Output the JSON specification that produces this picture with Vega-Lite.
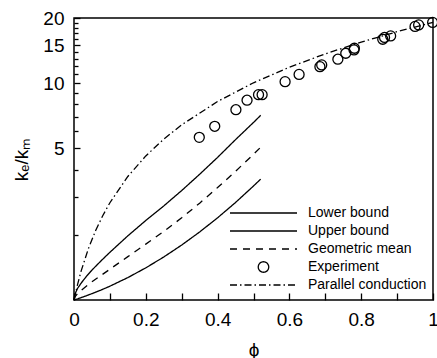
{
  "$schema": "https://vega.github.io/schema/vega-lite/v6.json",
  "width": 359,
  "height": 282,
  "autosize": {"type": "none"},
  "padding": {"left": 74, "top": 18, "right": 4, "bottom": 58},
  "background": "white",
  "config": {
    "font": "Liberation Sans",
    "view": {"stroke": "black", "strokeWidth": 1.5},
    "axis": {"grid": false, "domain": false, "tickColor": "black", "tickWidth": 1.3, "labelColor": "black", "titleColor": "black", "labelFont": "Liberation Sans", "titleFont": "Liberation Sans", "labelFontSize": 19, "titleFontSize": 19, "titleFontWeight": "normal"}
  },
  "data": {"values": [
    {"series": "Lower bound", "phi": 0, "k": 1.0},
    {"series": "Lower bound", "phi": 0.01, "k": 1.012},
    {"series": "Lower bound", "phi": 0.02, "k": 1.026},
    {"series": "Lower bound", "phi": 0.035, "k": 1.047},
    {"series": "Lower bound", "phi": 0.05, "k": 1.070},
    {"series": "Lower bound", "phi": 0.075, "k": 1.111},
    {"series": "Lower bound", "phi": 0.1, "k": 1.158},
    {"series": "Lower bound", "phi": 0.15, "k": 1.269},
    {"series": "Lower bound", "phi": 0.2, "k": 1.407},
    {"series": "Lower bound", "phi": 0.25, "k": 1.579},
    {"series": "Lower bound", "phi": 0.3, "k": 1.793},
    {"series": "Lower bound", "phi": 0.35, "k": 2.060},
    {"series": "Lower bound", "phi": 0.4, "k": 2.395},
    {"series": "Lower bound", "phi": 0.45, "k": 2.818},
    {"series": "Lower bound", "phi": 0.5, "k": 3.357},
    {"series": "Lower bound", "phi": 0.52, "k": 3.611},
    {"series": "Upper bound", "phi": 0, "k": 1.0},
    {"series": "Upper bound", "phi": 0.002, "k": 1.052},
    {"series": "Upper bound", "phi": 0.005, "k": 1.086},
    {"series": "Upper bound", "phi": 0.01, "k": 1.132},
    {"series": "Upper bound", "phi": 0.02, "k": 1.197},
    {"series": "Upper bound", "phi": 0.035, "k": 1.288},
    {"series": "Upper bound", "phi": 0.05, "k": 1.374},
    {"series": "Upper bound", "phi": 0.075, "k": 1.514},
    {"series": "Upper bound", "phi": 0.1, "k": 1.660},
    {"series": "Upper bound", "phi": 0.15, "k": 1.977},
    {"series": "Upper bound", "phi": 0.2, "k": 2.328},
    {"series": "Upper bound", "phi": 0.25, "k": 2.716},
    {"series": "Upper bound", "phi": 0.3, "k": 3.199},
    {"series": "Upper bound", "phi": 0.35, "k": 3.802},
    {"series": "Upper bound", "phi": 0.4, "k": 4.550},
    {"series": "Upper bound", "phi": 0.45, "k": 5.495},
    {"series": "Upper bound", "phi": 0.5, "k": 6.592},
    {"series": "Upper bound", "phi": 0.52, "k": 7.112},
    {"series": "Geometric mean", "phi": 0, "k": 1.0},
    {"series": "Geometric mean", "phi": 0.002, "k": 1.027},
    {"series": "Geometric mean", "phi": 0.005, "k": 1.046},
    {"series": "Geometric mean", "phi": 0.01, "k": 1.071},
    {"series": "Geometric mean", "phi": 0.02, "k": 1.108},
    {"series": "Geometric mean", "phi": 0.035, "k": 1.161},
    {"series": "Geometric mean", "phi": 0.05, "k": 1.213},
    {"series": "Geometric mean", "phi": 0.075, "k": 1.297},
    {"series": "Geometric mean", "phi": 0.1, "k": 1.387},
    {"series": "Geometric mean", "phi": 0.15, "k": 1.585},
    {"series": "Geometric mean", "phi": 0.2, "k": 1.810},
    {"series": "Geometric mean", "phi": 0.25, "k": 2.071},
    {"series": "Geometric mean", "phi": 0.3, "k": 2.395},
    {"series": "Geometric mean", "phi": 0.35, "k": 2.798},
    {"series": "Geometric mean", "phi": 0.4, "k": 3.302},
    {"series": "Geometric mean", "phi": 0.45, "k": 3.926},
    {"series": "Geometric mean", "phi": 0.5, "k": 4.703},
    {"series": "Geometric mean", "phi": 0.52, "k": 5.069},
    {"series": "Parallel conduction", "phi": 0, "k": 1.0},
    {"series": "Parallel conduction", "phi": 0.01, "k": 1.181},
    {"series": "Parallel conduction", "phi": 0.02, "k": 1.362},
    {"series": "Parallel conduction", "phi": 0.04, "k": 1.724},
    {"series": "Parallel conduction", "phi": 0.06, "k": 2.086},
    {"series": "Parallel conduction", "phi": 0.08, "k": 2.448},
    {"series": "Parallel conduction", "phi": 0.1, "k": 2.81},
    {"series": "Parallel conduction", "phi": 0.15, "k": 3.715},
    {"series": "Parallel conduction", "phi": 0.2, "k": 4.62},
    {"series": "Parallel conduction", "phi": 0.25, "k": 5.525},
    {"series": "Parallel conduction", "phi": 0.3, "k": 6.43},
    {"series": "Parallel conduction", "phi": 0.4, "k": 8.24},
    {"series": "Parallel conduction", "phi": 0.5, "k": 10.05},
    {"series": "Parallel conduction", "phi": 0.6, "k": 11.86},
    {"series": "Parallel conduction", "phi": 0.7, "k": 13.67},
    {"series": "Parallel conduction", "phi": 0.8, "k": 15.48},
    {"series": "Parallel conduction", "phi": 0.9, "k": 17.29},
    {"series": "Parallel conduction", "phi": 1.0, "k": 19.1},
    {"series": "Experiment", "phi": 0.349, "k": 5.63},
    {"series": "Experiment", "phi": 0.392, "k": 6.33},
    {"series": "Experiment", "phi": 0.451, "k": 7.55},
    {"series": "Experiment", "phi": 0.482, "k": 8.35},
    {"series": "Experiment", "phi": 0.514, "k": 8.86},
    {"series": "Experiment", "phi": 0.524, "k": 8.86},
    {"series": "Experiment", "phi": 0.588, "k": 10.17},
    {"series": "Experiment", "phi": 0.627, "k": 10.98},
    {"series": "Experiment", "phi": 0.685, "k": 11.93},
    {"series": "Experiment", "phi": 0.69, "k": 12.15},
    {"series": "Experiment", "phi": 0.735, "k": 12.91},
    {"series": "Experiment", "phi": 0.757, "k": 13.75},
    {"series": "Experiment", "phi": 0.78, "k": 14.25},
    {"series": "Experiment", "phi": 0.781, "k": 14.5},
    {"series": "Experiment", "phi": 0.86, "k": 15.96},
    {"series": "Experiment", "phi": 0.865, "k": 16.27},
    {"series": "Experiment", "phi": 0.882, "k": 16.53},
    {"series": "Experiment", "phi": 0.95, "k": 18.29},
    {"series": "Experiment", "phi": 0.96, "k": 18.58},
    {"series": "Experiment", "phi": 0.999, "k": 19.08}
  ]},
  "encoding": {
    "x": {"field": "phi", "type": "quantitative", "title": "ϕ",
      "scale": {"domain": [0, 1], "nice": false},
      "axis": {"values": [0, 0.1, 0.2, 0.3, 0.4, 0.5, 0.6, 0.7, 0.8, 0.9, 1],
        "labelExpr": "round(datum.value*10) % 2 === 0 ? format(datum.value, '~g') : ''",
        "tickSize": -7, "labelPadding": 17, "titlePadding": 11, "labelFlush": false}},
    "y": {"field": "k", "type": "quantitative", "title": "kₑ/kₘ",
      "scale": {"type": "log", "domain": [1, 20], "nice": false},
      "axis": {"values": [2, 3, 4, 5, 6, 7, 8, 9, 10, 11, 12, 13, 14, 15, 16, 17, 18, 19, 20],
        "labelExpr": "(datum.value === 5 || datum.value === 10 || datum.value === 15 || datum.value === 20) ? datum.value + '' : ''",
        "tickSize": {"condition": {"test": "datum.value === 5 || datum.value === 10 || datum.value === 15 || datum.value === 20", "value": -6}, "value": -4},
        "labelPadding": 16, "titlePadding": 11, "labelFlush": false}}
  },
  "layer": [
    {
      "transform": [{"filter": "datum.series !== 'Experiment'"}],
      "mark": {"type": "line", "color": "black", "strokeWidth": 1.3},
      "encoding": {
        "strokeDash": {"field": "series", "type": "nominal",
          "scale": {"domain": ["Lower bound", "Upper bound", "Geometric mean", "Experiment", "Parallel conduction"],
            "range": [[1, 0], [1, 0], [7, 6], [1, 0], [7, 3, 1.5, 3]]},
          "legend": {"title": null, "orient": "none", "legendX": 155, "legendY": 186,
            "padding": 0, "rowPadding": 0, "clipHeight": 18,
            "labelFont": "Liberation Sans", "labelFontSize": 14, "labelColor": "black", "labelOffset": 10, "labelLimit": 300,
            "symbolType": "stroke", "symbolSize": 4489, "symbolStrokeColor": "black", "symbolStrokeWidth": 1.3, "symbolFillColor": "transparent",
            "encode": {"symbols": {"update": {
              "shape": {"signal": "datum.value === 'Experiment' ? 'circle' : 'stroke'"},
              "size": {"signal": "datum.value === 'Experiment' ? 110 : 4489"},
              "stroke": {"value": "black"},
              "fill": {"value": "transparent"}
            }}}}
        }
      }
    },
    {
      "transform": [{"filter": "datum.series === 'Experiment'"}],
      "mark": {"type": "point", "shape": "circle", "filled": false, "color": "black", "size": 100, "strokeWidth": 1.3, "opacity": 1}
    }
  ]
}
